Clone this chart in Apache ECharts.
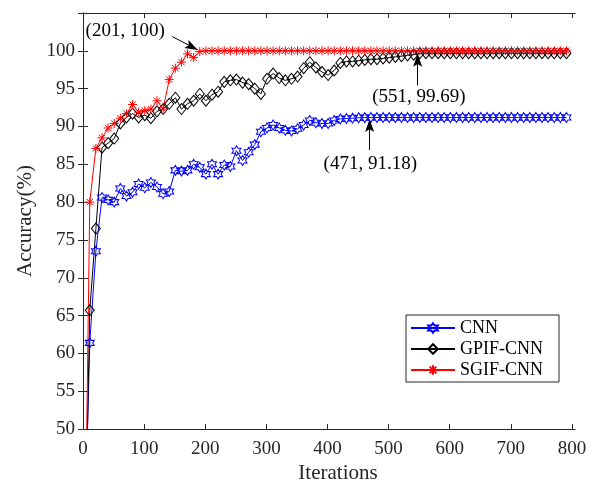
<!DOCTYPE html>
<html>
<head>
<meta charset="utf-8">
<script src="https://cdn.jsdelivr.net/npm/echarts@6/dist/echarts.min.js"></script>
<style>
    html, body { margin: 0; padding: 0; background: #fff; }
    #chart { width: 593px; height: 489px; }
</style>
</head>
<body>
<div id="chart"></div>
<script>
/* data, one point every 10 iterations */
var iterations = [1, 11, 21, 31, 41, 51, 61, 71, 81, 91, 101, 111, 121, 131, 141, 151, 161, 171, 181, 191,
    201, 211, 221, 231, 241, 251, 261, 271, 281, 291, 301, 311, 321, 331, 341, 351, 361, 371, 381, 391,
    401, 411, 421, 431, 441, 451, 461, 471, 481, 491, 501, 511, 521, 531, 541, 551, 561, 571, 581, 591,
    601, 611, 621, 631, 641, 651, 661, 671, 681, 691, 701, 711, 721, 731, 741, 751, 761, 771, 781, 791];

var cnn = [30, 61.4, 73.5, 80.6, 80.3, 80.0, 81.8, 80.8, 81.3, 82.4, 81.9, 82.6, 82.0, 81.1, 81.4, 84.2, 84.1, 84.2, 85.0, 84.6,
    83.7, 85.0, 83.7, 84.9, 84.7, 86.8, 85.5, 86.6, 87.6, 89.3, 89.8, 90.2, 89.8, 89.5, 89.4, 89.7, 90.2, 90.8, 90.5, 90.4,
    90.4, 90.8, 91.0, 91.05, 91.1, 91.15, 91.17, 91.18, 91.18, 91.18, 91.18, 91.18, 91.18, 91.18, 91.18, 91.18, 91.18, 91.18, 91.18, 91.18,
    91.18, 91.18, 91.18, 91.18, 91.18, 91.18, 91.18, 91.18, 91.18, 91.18, 91.18, 91.18, 91.18, 91.18, 91.18, 91.18, 91.18, 91.18, 91.18, 91.18];

var gpifCnn = [25, 65.7, 76.5, 87.2, 87.8, 88.4, 90.4, 91.2, 91.7, 91.2, 91.5, 91.1, 92.0, 92.3, 93.0, 93.8, 92.3, 93.0, 93.4, 94.3,
    93.4, 94.2, 94.6, 95.9, 96.1, 96.2, 95.8, 95.6, 95.0, 94.3, 96.3, 97.0, 96.4, 96.1, 96.3, 96.6, 97.7, 98.5, 97.8, 97.2,
    96.8, 97.4, 98.4, 98.6, 98.6, 98.7, 98.8, 98.9, 98.9, 99.0, 99.1, 99.2, 99.3, 99.4, 99.5, 99.69, 99.69, 99.69, 99.69, 99.69,
    99.69, 99.69, 99.69, 99.69, 99.69, 99.69, 99.69, 99.69, 99.69, 99.69, 99.69, 99.69, 99.69, 99.69, 99.69, 99.69, 99.69, 99.69, 99.69, 99.69];

var sgifCnn = [20, 80.0, 87.1, 88.5, 89.8, 90.4, 91.1, 91.7, 92.9, 91.9, 92.1, 92.3, 93.4, 92.3, 96.2, 97.7, 98.5, 99.6, 99.1, 99.9,
    100, 100, 100, 100, 100, 100, 100, 100, 100, 100, 100, 100, 100, 100, 100, 100, 100, 100, 100, 100,
    100, 100, 100, 100, 100, 100, 100, 100, 100, 100, 100, 100, 100, 100, 100, 100, 100, 100, 100, 100,
    100, 100, 100, 100, 100, 100, 100, 100, 100, 100, 100, 100, 100, 100, 100, 100, 100, 100, 100, 100];

var seriesNames = ['CNN', 'GPIF-CNN', 'SGIF-CNN'];
var xTicks = [0, 100, 200, 300, 400, 500, 600, 700, 800];

/* annotations: [label, text position, arrow start, arrow end] in data units */
var notes = [
    ['(201, 100)', [68.9, 102.62], [145.9, 101.89], [178.4, 100.52]],
    ['(551, 99.69)', [549.7, 93.96], [547.5, 95.41], [547.5, 98.74]],
    ['(471, 91.18)', [470, 85.04], [468.9, 86.88], [468.9, 90.12]]
];

var FONT = 'Liberation Serif';
var AXIS_COLOR = '#262626';

var hexagram = 'path://M0,-100L28.87,-50L86.6,-50L57.7,0L86.6,50L28.87,50L0,100L-28.87,50L-86.6,50L-57.7,0L-86.6,-50L-28.87,-50Z';
var asterisk = 'path://M0,-100L0,100M-100,0L100,0M-70,-70L70,70M-70,70L70,-70';
var arrowHead = 'path://M0,0L10,28L0,22L-10,28Z';

function zip(xs, ys) {
    var out = [];
    for (var i = 0; i < xs.length; i++) {
        out.push([xs[i], ys[i]]);
    }
    return out;
}

function lineSeries(name, values, color, symbol, size) {
    return {
        name: name,
        type: 'line',
        data: zip(iterations, values),
        symbol: symbol,
        symbolSize: size,
        showAllSymbol: true,
        clip: true,
        lineStyle: { color: color, width: 1 },
        itemStyle: { color: 'none', borderColor: color, borderWidth: 1 },
        emphasis: { disabled: true }
    };
}

var chart = echarts.init(document.getElementById('chart'));

var frameAxis = {
    axisLine: { show: true, lineStyle: { color: AXIS_COLOR, width: 1 } },
    axisTick: { show: true, inside: true, length: 5, lineStyle: { color: AXIS_COLOR } },
    splitLine: { show: false }
};

var series = [
    lineSeries(seriesNames[0], cnn, '#0000ff', hexagram, [9, 10]),
    lineSeries(seriesNames[1], gpifCnn, '#000000', 'diamond', [9, 11]),
    lineSeries(seriesNames[2], sgifCnn, '#ff0000', asterisk, [9, 9])
];

// arrows and their labels hang off the last series
series[2].markLine = {
    silent: true,
    symbol: ['none', arrowHead],
    symbolSize: [9, 13],
    label: { show: false },
    lineStyle: { color: '#000', width: 1, type: 'solid' },
    itemStyle: { color: '#000' },
    data: notes.map(function (n) {
        return [{ coord: n[2] }, { coord: n[3] }];
    })
};
series[2].markPoint = {
    silent: true,
    symbol: 'rect',
    symbolSize: 1,
    itemStyle: { color: 'rgba(0,0,0,0)' },
    label: {
        show: true,
        position: 'inside',
        formatter: '{b}',
        color: '#000',
        fontFamily: FONT,
        fontSize: 19
    },
    data: notes.map(function (n) {
        return { name: n[0], coord: n[1] };
    })
};

var option = {
    animation: false,
    backgroundColor: '#fff',
    grid: { left: 80, right: 18, top: 13, bottom: 56 },
    legend: {
        data: seriesNames,
        orient: 'vertical',
        left: 406,
        top: 315,
        padding: [4, 16, 3, 4],
        itemWidth: 44,
        itemHeight: 12,
        itemGap: 3,
        backgroundColor: '#fff',
        borderColor: AXIS_COLOR,
        borderWidth: 1,
        textStyle: { fontFamily: FONT, fontSize: 18, color: '#000' }
    },
    xAxis: [
        Object.assign({}, frameAxis, {
            type: 'value',
            min: -5,
            max: 805,
            name: 'Iterations',
            nameLocation: 'middle',
            nameGap: 33,
            nameTextStyle: { fontFamily: FONT, fontSize: 21, color: AXIS_COLOR, padding: [0, 0, 0, 21] },
            axisTick: Object.assign({}, frameAxis.axisTick, { customValues: xTicks }),
            axisLabel: { customValues: xTicks, margin: 10, fontFamily: FONT, fontSize: 19, color: AXIS_COLOR }
        }),
        Object.assign({}, frameAxis, {
            type: 'value',
            position: 'top',
            min: -5,
            max: 805,
            axisTick: Object.assign({}, frameAxis.axisTick, { customValues: xTicks }),
            axisLabel: { show: false }
        })
    ],
    yAxis: [
        Object.assign({}, frameAxis, {
            type: 'value',
            min: 50,
            max: 105,
            interval: 5,
            name: 'Accuracy(%)',
            nameLocation: 'middle',
            nameGap: 40,
            nameTextStyle: { fontFamily: FONT, fontSize: 21, color: AXIS_COLOR },
            axisLabel: {
                margin: 5,
                fontFamily: FONT,
                fontSize: 19,
                color: AXIS_COLOR,
                formatter: function (v) { return v > 100 ? '' : v; }
            }
        }),
        Object.assign({}, frameAxis, {
            type: 'value',
            position: 'right',
            min: 50,
            max: 105,
            interval: 5,
            axisLabel: { show: false }
        })
    ],
    series: series
};

chart.setOption(option);
</script>
</body>
</html>
